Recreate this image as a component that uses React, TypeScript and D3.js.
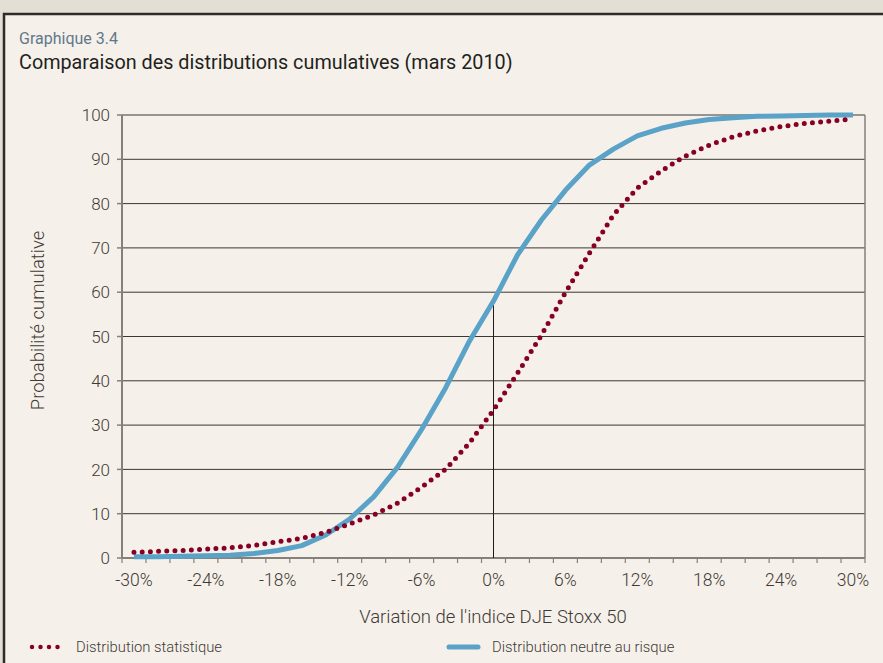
import * as d3 from "d3";

// variation of the index, in %, one category per 2 points
const variations = [
  -30, -28, -26, -24, -22, -20, -18, -16, -14, -12, -10, -8, -6, -4, -2, 0,
  2, 4, 6, 8, 10, 12, 14, 16, 18, 20, 22, 24, 26, 28, 30,
];

// Distribution statistique (dotted red)
const statistique = [
  1.3, 1.5, 1.7, 2.0, 2.3, 2.8, 3.7, 4.4, 5.8, 7.7, 9.7, 12.4, 16, 20, 26, 33.4,
  41.7, 50.3, 59.9, 68.8, 77.4, 83.5, 87.4, 90.7, 93.2, 95.1, 96.4, 97.4, 98.1, 98.6, 99.1,
];

// Distribution neutre au risque (blue)
const neutre = [
  0.3, 0.3, 0.4, 0.5, 0.6, 1.0, 1.7, 2.8, 5.2, 8.8, 13.8, 20.5, 29, 38.4, 49, 58,
  68.4, 76.3, 83, 88.7, 92.3, 95.3, 97, 98.2, 99, 99.4, 99.7, 99.8, 99.9, 100, 100,
];

const xLabels = [-30, -24, -18, -12, -6, 0, 6, 12, 18, 24, 30];
const yTicks = [0, 10, 20, 30, 40, 50, 60, 70, 80, 90, 100];

const width = 883;
const height = 663;
const plot = { left: 122, right: 865, top: 115, bottom: 558 };

const font = "Roboto, 'DejaVu Sans', sans-serif";
const textColor = "#3f3a36";
const red = "#860025";
const blue = "#5aa2c8";

export default function App() {
  const x = d3
    .scaleBand<number>()
    .domain(variations)
    .range([plot.left, plot.right])
    .padding(0);
  const bw = x.bandwidth();
  const cx = (v: number) => (x(v) as number) + bw / 2;

  const y = d3.scaleLinear().domain([0, 100]).range([plot.bottom, plot.top]);

  const line = d3
    .line<number>()
    .x((_, i) => cx(variations[i]))
    .y((d) => y(d));

  // tick marks on the band boundaries
  const bounds = variations.map((v) => x(v) as number).concat([plot.right]);

  return (
    <svg
      width={width}
      height={height}
      style={{ position: "absolute", left: 0, top: 0, display: "block" }}
    >
      <rect x={0} y={0} width={width} height={height} fill="#e4dfd4" />
      <rect x={4} y={14} width={width} height={height} fill="#f5f1ea" stroke="#2e2b28" strokeWidth={2.5} />

      <text x={19} y={44} fontFamily={font} fontSize={16} fill="#62788a">
        Graphique 3.4
      </text>
      <text x={19} y={69} fontFamily={font} fontSize={19.8} fill="#231f1c">
        Comparaison des distributions cumulatives (mars 2010)
      </text>

      {/* grid */}
      {yTicks.slice(1).map((t) => (
        <line key={t} x1={plot.left} x2={plot.right} y1={y(t)} y2={y(t)} stroke="#3b3733" strokeWidth={1} />
      ))}
      {/* y axis */}
      <line x1={plot.left} x2={plot.left} y1={plot.top} y2={plot.bottom} stroke="#85807a" strokeWidth={2} />
      <line x1={plot.right} x2={plot.right} y1={plot.top} y2={plot.bottom} stroke="#85807a" strokeWidth={1.5} />
      {yTicks.map((t) => (
        <g key={t}>
          <line x1={plot.left - 5} x2={plot.left} y1={y(t)} y2={y(t)} stroke="#85807a" strokeWidth={1.5} />
          <text x={110} y={y(t)} dy="0.36em" textAnchor="end" fontFamily={font} fontWeight={300} fontSize={17} fill={textColor}>
            {t}
          </text>
        </g>
      ))}
      {/* x axis */}
      <line x1={plot.left} x2={plot.right} y1={plot.bottom} y2={plot.bottom} stroke="#85807a" strokeWidth={2} />
      {bounds.map((b, i) => (
        <line key={i} x1={b} x2={b} y1={plot.bottom} y2={plot.bottom + 5} stroke="#85807a" strokeWidth={1.2} />
      ))}
      {xLabels.map((v) => (
        <text key={v} x={cx(v)} y={586} textAnchor="middle" fontFamily={font} fontWeight={300} fontSize={17.5} fill={textColor}>
          {v + "%"}
        </text>
      ))}

      <text x={493} y={623} textAnchor="middle" fontFamily={font} fontWeight={300} fontSize={18.5} fill={textColor}>
        Variation de l'indice DJE Stoxx 50
      </text>
      <text
        transform={`translate(44, ${(plot.top + plot.bottom) / 2 - 16}) rotate(-90)`}
        textAnchor="middle"
        fontFamily={font}
        fontWeight={300}
        fontSize={18.5}
        fill={textColor}
      >
        Probabilité cumulative
      </text>

      {/* vertical marker at 0% */}
      <line x1={cx(0)} x2={cx(0)} y1={plot.bottom} y2={y(neutre[variations.indexOf(0)])} stroke="#1e1b19" strokeWidth={1} />

      <path d={line(neutre) ?? ""} fill="none" stroke={blue} strokeWidth={5} strokeLinejoin="round" />
      <path
        d={line(statistique) ?? ""}
        fill="none"
        stroke={red}
        strokeWidth={5}
        strokeLinecap="round"
        strokeDasharray="0 8.2"
      />

      {/* legend */}
      <line x1={32} x2={62} y1={647} y2={647} stroke={red} strokeWidth={4.5} strokeLinecap="round" strokeDasharray="0 8.5" />
      <text x={76} y={647} dy="0.35em" fontFamily={font} fontWeight={300} fontSize={14.8} fill={textColor}>
        Distribution statistique
      </text>
      <line x1={449} x2={478} y1={647} y2={647} stroke={blue} strokeWidth={5} strokeLinecap="round" />
      <text x={492} y={647} dy="0.35em" fontFamily={font} fontWeight={300} fontSize={14.8} fill={textColor}>
        Distribution neutre au risque
      </text>
    </svg>
  );
}
